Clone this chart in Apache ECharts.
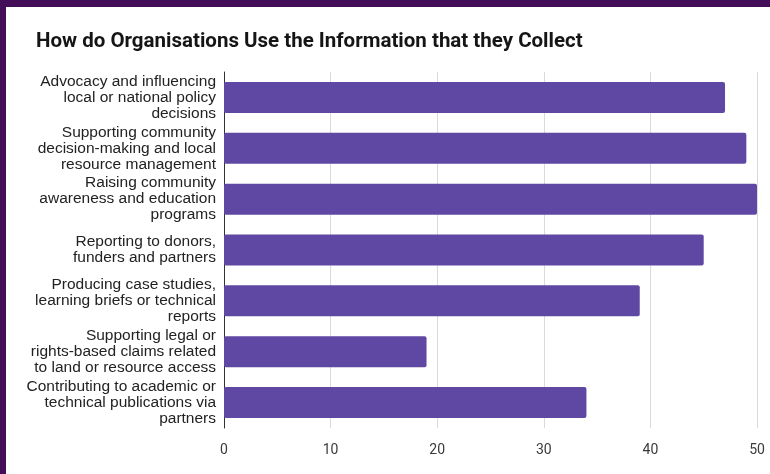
<!DOCTYPE html>
<html>
<head>
<meta charset="utf-8">
<script src="https://cdn.jsdelivr.net/npm/echarts@6.0.0/dist/echarts.min.js"></script>
<style>
  html, body { margin: 0; padding: 0; }
  body { width: 770px; height: 474px; background: #430d58; position: relative; overflow: hidden; }
  #panel { position: absolute; left: 6px; top: 7px; right: 0; bottom: 0; background: #ffffff; }
  #chart { position: absolute; left: 0; top: 0; width: 770px; height: 474px; }
</style>
</head>
<body>
<div id="panel"></div>
<div id="chart"></div>
<script>
// Uses of collected information and number of organisations for each
const categories = [
  'Advocacy and influencing\nlocal or national policy\ndecisions',
  'Supporting community\ndecision-making and local\nresource management',
  'Raising community\nawareness and education\nprograms',
  'Reporting to donors,\nfunders and partners',
  'Producing case studies,\nlearning briefs or technical\nreports',
  'Supporting legal or\nrights-based claims related\nto land or resource access',
  'Contributing to academic or\ntechnical publications via\npartners'
];
const counts = [47, 49, 50, 45, 39, 19, 34];
const xTicks = [0, 10, 20, 30, 40, 50];

const chart = echarts.init(document.getElementById('chart'), null, { renderer: 'canvas' });
chart.setOption({
  backgroundColor: 'transparent',
  animation: false,
  title: {
    text: 'How do Organisations Use the Information that they Collect',
    left: 31,
    top: 26,
    textStyle: { fontFamily: 'Roboto', fontWeight: 'bold', fontSize: 20.5, color: '#151515' }
  },
  grid: { left: 224, right: 13, top: 72, bottom: 46, containLabel: false },
  xAxis: {
    type: 'value',
    min: xTicks[0],
    max: xTicks[xTicks.length - 1],
    interval: xTicks[1] - xTicks[0],
    axisLine: { show: false },
    axisTick: { show: false },
    splitLine: { show: true, lineStyle: { color: '#dadada', width: 1 } },
    axisLabel: {
      margin: 15,
      fontFamily: 'Roboto',
      fontSize: 14,
      color: '#3a3a3a'
    }
  },
  yAxis: {
    type: 'category',
    inverse: true,
    data: categories,
    axisLine: { show: true, lineStyle: { color: '#333333', width: 1 } },
    axisTick: { show: false },
    axisLabel: {
      margin: 8,
      fontFamily: 'Liberation Sans, Arial, sans-serif',
      fontSize: 15.5,
      lineHeight: 16,
      color: '#222222',
      align: 'right'
    }
  },
  series: [{
    type: 'bar',
    data: counts,
    barCategoryGap: '39%',
    itemStyle: { color: '#5f48a4', borderRadius: 2 }
  }]
});
</script>
</body>
</html>
